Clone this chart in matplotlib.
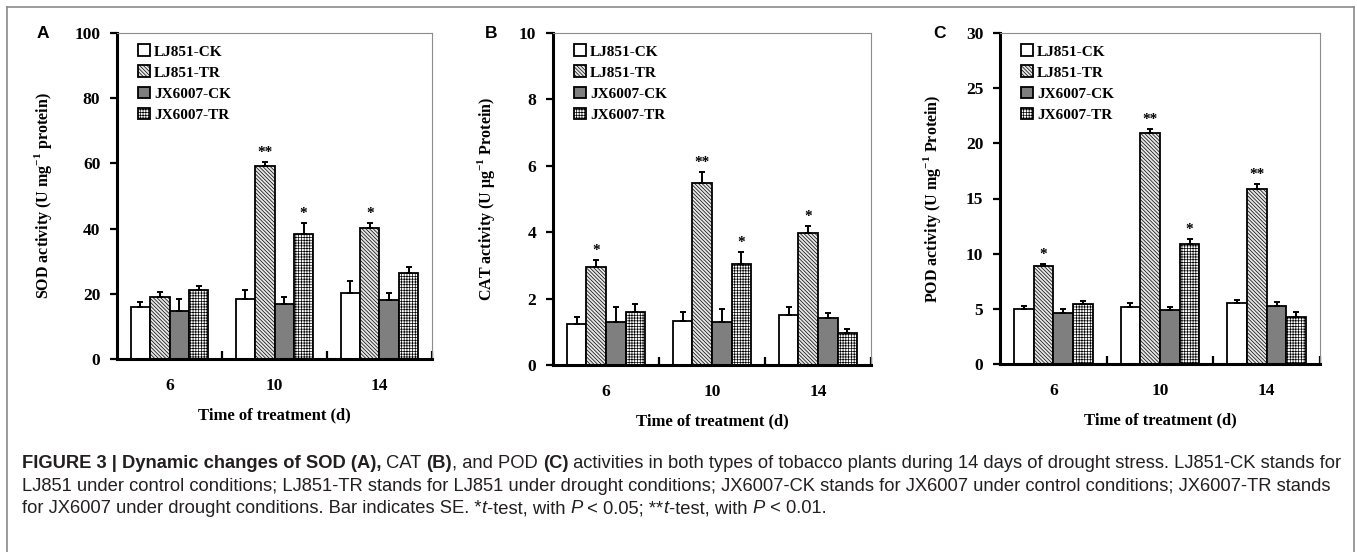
import matplotlib
matplotlib.use("Agg")
import matplotlib.pyplot as plt
from matplotlib.patches import Patch
from matplotlib.lines import Line2D
import numpy as np

# ---------------- DATA ----------------
days = ["6", "10", "14"]
series = ["LJ851-CK", "LJ851-TR", "JX6007-CK", "JX6007-TR"]

# SOD (A)
sod_ck = [16.0, 18.3, 20.1]
sod_tr = [19.1, 59.3, 40.1]
sod_jxck = [14.8, 16.8, 18.1]
sod_jxtr = [21.2, 38.3, 26.3]
sod_err = [[1.5, 2.9, 3.8], [1.5, 1.2, 1.7], [3.5, 2.3, 2.0], [1.2, 3.5, 2.0]]
sod_sig = [["", "", ""], ["", "**", "*"], ["", "", ""], ["", "*", ""]]

# CAT (B)
cat_ck = [1.23, 1.33, 1.51]
cat_tr = [2.96, 5.49, 3.98]
cat_jxck = [1.30, 1.30, 1.41]
cat_jxtr = [1.61, 3.03, 0.95]
cat_err = [[0.23, 0.28, 0.23], [0.2, 0.33, 0.2], [0.44, 0.4, 0.15], [0.23, 0.38, 0.12]]
cat_sig = [["", "", ""], ["*", "**", "*"], ["", "", ""], ["", "*", ""]]

# POD (C)
pod_ck = [5.0, 5.2, 5.5]
pod_tr = [8.9, 20.9, 15.9]
pod_jxck = [4.6, 4.85, 5.3]
pod_jxtr = [5.4, 10.9, 4.3]
pod_err = [[0.3, 0.3, 0.3], [0.2, 0.4, 0.45], [0.4, 0.35, 0.3], [0.3, 0.45, 0.4]]
pod_sig = [["", "", ""], ["*", "**", "**"], ["", "", ""], ["", "*", ""]]

# ---------------- STYLE ----------------
plt.rcParams['font.family'] = ['Liberation Serif', 'DejaVu Serif']
plt.rcParams['font.weight'] = 'bold'
plt.rcParams['mathtext.fontset'] = 'custom'
plt.rcParams['mathtext.rm'] = 'Liberation Serif:bold'
plt.rcParams['mathtext.bf'] = 'Liberation Serif:bold'
plt.rcParams['hatch.linewidth'] = 0.5

face = ['white', '#e6e6e6', '#7f7f7f', 'white']
hatches = ['', '\\\\\\\\\\\\\\\\\\', '', '++++++']

W, H = 1357, 552
fig = plt.figure(figsize=(W / 100, H / 100), dpi=100)


def px_axes(left, right, top, bottom):
    return fig.add_axes([left / W, 1 - bottom / H, (right - left) / W, (bottom - top) / H])


def draw_panel(ax, vals, errs, sigs, ymax, step, ylabel, label_x, letter, letter_x):
    x = np.arange(len(days))
    bw = 0.185
    for i, name in enumerate(series):
        pos = x + (i - 1.5) * bw
        ax.bar(pos, vals[i], bw, color=face[i], edgecolor='black', linewidth=1.3,
               hatch=hatches[i], label=name, zorder=2)
        ax.errorbar(pos, vals[i], yerr=[np.zeros(len(days)), errs[i]], fmt='none',
                    ecolor='black', elinewidth=1.4, capsize=2.5, capthick=1.4, zorder=3)
        for j in range(len(days)):
            if sigs[i][j]:
                ax.annotate(sigs[i][j], (pos[j], vals[i][j] + errs[i][j]),
                            xytext=(0, 2), textcoords='offset points',
                            ha='center', va='bottom', fontsize=11, fontweight='bold')
    ax.set_xlim(-0.5, 2.5)
    ax.set_ylim(0, ymax)
    ax.set_yticks(np.arange(0, ymax + step / 2, step))
    ax.set_xticks(x)
    ax.set_xticklabels(days)
    ax.set_xticks([0.5, 1.5, 2.5], minor=True)
    ax.tick_params(axis='x', which='major', length=0, pad=14, labelsize=12.5)
    ax.tick_params(axis='x', which='minor', direction='in', length=6, width=1.6)
    ax.tick_params(axis='y', direction='out', length=5, width=1.6, pad=7, labelsize=12.5)
    for s in ['left', 'bottom']:
        ax.spines[s].set_linewidth(2.2)
    for s in ['top', 'right']:
        ax.spines[s].set_linewidth(0.8)
        ax.spines[s].set_color('#8c8c8c')
    ax.set_xlabel("Time of treatment (d)", fontsize=12, fontweight='bold', labelpad=9)
    ax.set_ylabel(ylabel, fontsize=11.5, fontweight='bold')
    ax.yaxis.set_label_coords(label_x, 0.5)
    handles = [Patch(facecolor=face[i], edgecolor='black', linewidth=1.3, hatch=hatches[i])
               for i in range(len(series))]
    ax.legend(handles, series, loc='upper left', frameon=False, fontsize=11,
              handlelength=0.8, handleheight=0.8, handletextpad=0.25, labelspacing=0.45,
              borderaxespad=0.35, bbox_to_anchor=(0.03, 1.0))
    fig.text(letter_x / W, 1 - 33 / H, letter, fontsize=12.5, fontweight='bold',
             family='Liberation Sans', ha='center', va='center')


axA = px_axes(117, 432, 33, 359)
axB = px_axes(553, 871, 33, 365)
axC = px_axes(1000, 1320, 33, 364)

draw_panel(axA, [sod_ck, sod_tr, sod_jxck, sod_jxtr], sod_err, sod_sig, 100, 20,
           r"SOD activity (U mg$^{-1}$ protein)", -0.2, "A", 43)
draw_panel(axB, [cat_ck, cat_tr, cat_jxck, cat_jxtr], cat_err, cat_sig, 10, 2,
           r"CAT activity (U $\mathrm{\mu}$g$^{-1}$ Protein)", -0.175, "B", 491)
draw_panel(axC, [pod_ck, pod_tr, pod_jxck, pod_jxtr], pod_err, pod_sig, 30, 5,
           r"POD activity (U mg$^{-1}$ Protein)", -0.178, "C", 940)

# outer frame
frame_col = '#8a8a8a'
fig.add_artist(Line2D([7 / W, 7 / W], [0, 1 - 7 / H], color=frame_col, lw=1.2))
fig.add_artist(Line2D([1354 / W, 1354 / W], [0, 1 - 7 / H], color=frame_col, lw=1.2))
fig.add_artist(Line2D([7 / W, 1354 / W], [1 - 7 / H, 1 - 7 / H], color=frame_col, lw=1.2))

# ---------------- CAPTION ----------------
cap_lines = [
    [("FIGURE 3 | Dynamic changes of SOD (A),", 'bold', 'normal'), (" CAT ", 'normal', 'normal'),
     ("(B)", 'bold', 'normal'), (", and POD ", 'normal', 'normal'), ("(C)", 'bold', 'normal'),
     (" activities in both types of tobacco plants during 14 days of drought stress. LJ851-CK stands for",
      'normal', 'normal')],
    [("LJ851 under control conditions; LJ851-TR stands for LJ851 under drought conditions; "
      "JX6007-CK stands for JX6007 under control conditions; JX6007-TR stands", 'normal', 'normal')],
    [("for JX6007 under drought conditions. Bar indicates SE. *", 'normal', 'normal'),
     ("t", 'normal', 'italic'), ("-test, with ", 'normal', 'normal'), ("P", 'normal', 'italic'),
     (" < 0.05; **", 'normal', 'normal'), ("t", 'normal', 'italic'),
     ("-test, with ", 'normal', 'normal'), ("P", 'normal', 'italic'), (" < 0.01.", 'normal', 'normal')],
]
cap_y = [468, 491, 513]

fig.canvas.draw()
renderer = fig.canvas.get_renderer()
for parts, yb in zip(cap_lines, cap_y):
    xpos = 22
    for txt, wt, st in parts:
        t = fig.text(xpos / W, 1 - yb / H, txt, fontsize=13.2, fontweight=wt, fontstyle=st,
                     family=['Liberation Sans', 'DejaVu Sans'], color='#231f20',
                     ha='left', va='baseline')
        bb = t.get_window_extent(renderer)
        xpos = bb.x1

fig.savefig("out.png", dpi=100)
